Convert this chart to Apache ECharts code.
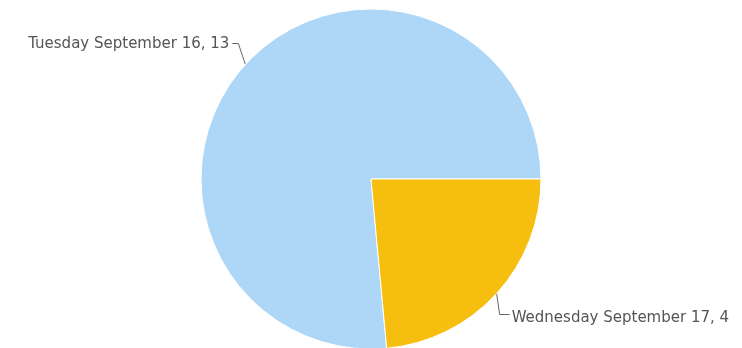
<!DOCTYPE html>
<html>
<head>
<meta charset="utf-8">
<script src="https://cdn.jsdelivr.net/npm/echarts@6/dist/echarts.min.js"></script>
<style>
  html, body { margin: 0; padding: 0; background: #fff; }
  #chart { width: 742px; height: 348px; }
</style>
</head>
<body>
<div id="chart"></div>
<script>
const days = ["Tuesday September 16", "Wednesday September 17"];
const counts = [13, 4];
const colors = ["#AED6F7", "#F6BE0F"];

const chart = echarts.init(document.getElementById("chart"));
chart.setOption({
  animation: false,
  color: colors,
  series: [
    {
      type: "pie",
      center: [371, 179],
      radius: 170,
      startAngle: 0,
      clockwise: false,
      data: days.map((d, i) => ({ name: d, value: counts[i] })),
      itemStyle: {
        borderColor: "#fff",
        borderWidth: 1
      },
      label: {
        formatter: "{b}, {c}",
        color: "#555",
        fontFamily: "'DejaVu Sans', Verdana, sans-serif",
        fontSize: 15,
        overflow: "none"
      },
      labelLine: {
        length: 16,
        length2: 8,
        lineStyle: { color: "#666", width: 1 }
      },
      // leader lines bend vertically first, like the original
      labelLayout: function (params) {
        const p = params.labelLinePoints;
        if (!p) return {};
        const left = p[2][0] < p[0][0];
        const a = p[0];
        const top = a[1] < 179;
        const b = [a[0] + (left ? -7 : 3), a[1] + (top ? -21 : 21)];
        const c = [b[0] + (left ? -6 : 10), b[1]];
        return {
          x: c[0] + (left ? -3 : 2),
          y: c[1] + (top ? 1 : 4),
          align: left ? "right" : "left",
          verticalAlign: "middle",
          labelLinePoints: [a, b, c]
        };
      },
      emphasis: { disabled: true }
    }
  ]
});
</script>
</body>
</html>
